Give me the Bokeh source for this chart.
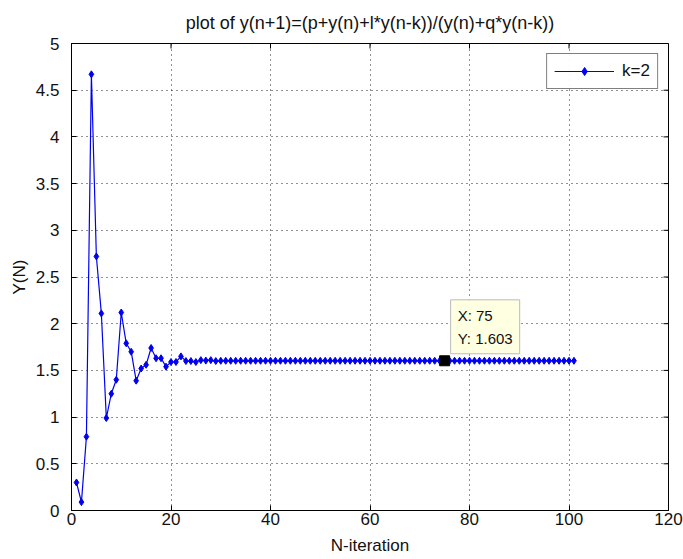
import math
from bokeh.plotting import figure
from bokeh.models import FixedTicker, Label, Range1d, Legend, LegendItem
from bokeh.embed import file_html
from bokeh.resources import INLINE

title_text = "plot of y(n+1)=(p+y(n)+l*y(n-k))/(y(n)+q*y(n-k))"
x_label = "N-iteration"
y_label = "Y(N)"
legend_text = "k=2"

y_start = [0.30, 0.09, 0.79, 4.67, 2.72, 2.11, 0.99, 1.25, 1.40, 2.12,
           1.79, 1.70, 1.39, 1.52, 1.56, 1.74, 1.63, 1.63, 1.54, 1.59,
           1.59, 1.65, 1.60, 1.60, 1.59, 1.61, 1.605, 1.61, 1.60]
y_tail = [1.603] * 72
y_vals = y_start + y_tail
n_vals = list(range(1, len(y_vals) + 1))

tip_x = 75
tip_y = 1.603

x_min, x_max = 0, 120
y_min, y_max = 0, 5
x_ticks = [0, 20, 40, 60, 80, 100, 120]
y_ticks = [0, 0.5, 1, 1.5, 2, 2.5, 3, 3.5, 4, 4.5, 5]

FONT = "Liberation Sans"
BLUE = "#0000f0"
TXT = "#111111"

p = figure(width=683, height=559, output_backend="svg", toolbar_location=None,
           x_range=Range1d(x_min, x_max), y_range=Range1d(y_min, y_max),
           min_border_left=71, min_border_right=15, min_border_top=42, min_border_bottom=49)
p.title.text = title_text
p.title.align = "center"
p.title.text_font = FONT
p.title.text_font_size = "18px"
p.title.text_font_style = "normal"
p.title.text_color = TXT
p.title.standoff = 21

p.background_fill_color = "white"
p.border_fill_color = "white"
p.outline_line_color = "black"
p.outline_line_width = 1

for ax in (p.xaxis[0], p.yaxis[0]):
    ax.major_tick_in = 5
    ax.major_tick_out = 0
    ax.minor_tick_line_color = None
    ax.axis_line_color = "black"
    ax.major_tick_line_color = "black"
    ax.major_label_text_font = FONT
    ax.major_label_text_font_size = "17px"
    ax.major_label_text_color = TXT
    ax.axis_label_text_font = FONT
    ax.axis_label_text_font_size = "17px"
    ax.axis_label_text_font_style = "normal"
    ax.axis_label_text_color = TXT

p.xaxis[0].ticker = FixedTicker(ticks=x_ticks)
p.yaxis[0].ticker = FixedTicker(ticks=y_ticks)
p.xaxis[0].axis_label = x_label
p.yaxis[0].axis_label = y_label
p.xaxis[0].major_label_standoff = 2
p.yaxis[0].major_label_standoff = 12
p.xaxis[0].axis_label_standoff = 8
p.yaxis[0].axis_label_standoff = 4

for g in (p.xgrid[0], p.ygrid[0]):
    g.grid_line_color = "#222222"
    g.grid_line_dash = "1 4"
    g.grid_line_width = 1

# inward tick marks on the top and right edges of the box (clipped to the frame)
p.scatter(x_ticks, [y_max] * len(x_ticks), marker="dash", angle=math.pi / 2,
          size=10, line_color="black", line_width=1)
p.scatter([x_max] * len(y_ticks), y_ticks, marker="dash",
          size=10, line_color="black", line_width=1)

ln = p.line(n_vals, y_vals, line_color=BLUE, line_width=1.2)
sc = p.scatter(n_vals, y_vals, marker="diamond", size=7, fill_color=BLUE, line_color=BLUE)

p.scatter([tip_x], [tip_y], marker="square", size=10, fill_color="black", line_color="black")

tip = Label(x=tip_x, y=tip_y, x_offset=6, y_offset=7,
            text=f"X: {tip_x}\nY: {tip_y}",
            text_font=FONT, text_font_size="15px", text_color=TXT,
            text_line_height=1.35,
            background_fill_color="#ffffe1", border_line_color="#bbbbbb",
            padding=7)
p.add_layout(tip)

legend = Legend(items=[LegendItem(label=legend_text, renderers=[ln, sc])],
                location="top_right", border_line_color="black",
                label_text_font=FONT, label_text_font_size="17px", label_text_color=TXT,
                glyph_width=60, glyph_height=20, margin=10, padding=7,
                label_standoff=8, spacing=0)
p.add_layout(legend)

open("out.html", "w").write(file_html(p, INLINE))
